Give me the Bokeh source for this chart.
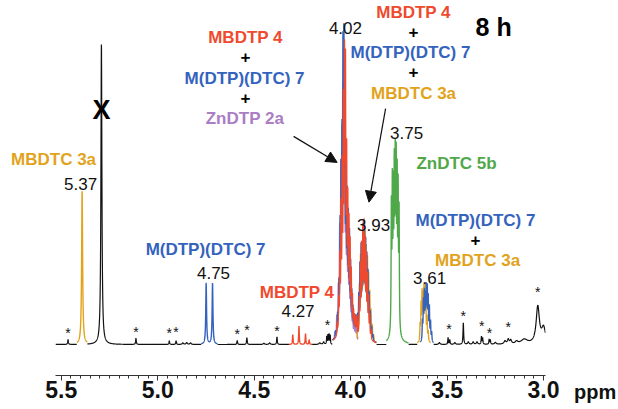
import numpy as np
from bokeh.plotting import figure
from bokeh.models import Arrow, NormalHead, FixedTicker, Range1d, PrintfTickFormatter, ColumnDataSource
from bokeh.embed import file_html
from bokeh.resources import INLINE
from bokeh.core.properties import value

YEL = "#E2A31C"
RED = "#EF4A2E"
BLU = "#3463BE"
PUR = "#AA7DC4"
GRN = "#4FA84A"

# peaks: (ppm, height, half-width)
black_peaks = [
    (5.465, 1.6, 0.002), (5.292, 98.0, 0.003), (5.113, 2.0, 0.002),
    (4.940, 1.2, 0.002), (4.905, 1.2, 0.002), (4.870, 0.5, 0.004),
    (4.850, 0.6, 0.004), (4.830, 0.5, 0.004), (4.588, 1.3, 0.002),
    (4.538, 2.2, 0.002), (4.450, 0.4, 0.004), (4.420, 0.5, 0.004),
    (4.382, 2.5, 0.002), (4.160, 0.5, 0.005), (4.140, 0.8, 0.004),
    (4.124, 2.5, 0.0015), (4.118, 3.0, 0.0015), (4.112, 3.2, 0.0015),
    (4.106, 3.0, 0.0015), (3.540, 0.6, 0.004), (3.495, 2.2, 0.0018),
    (3.486, 1.5, 0.0018), (3.460, 0.6, 0.004), (3.416, 7.0, 0.002),
    (3.390, 0.8, 0.004), (3.365, 0.8, 0.004), (3.345, 0.8, 0.004),
    (3.322, 2.5, 0.0018), (3.316, 2.0, 0.0018), (3.282, 1.6, 0.0018),
    (3.276, 1.4, 0.0018), (3.250, 0.6, 0.005), (3.200, 1.0, 0.006),
    (3.183, 1.5, 0.005), (3.170, 1.2, 0.005), (3.140, 0.8, 0.008),
    (3.100, 1.5, 0.02), (3.030, 12.0, 0.010), (3.000, 5.0, 0.012),
]
yellow_537 = [(5.392, 50.0, 0.003)]
blue_475 = [(4.749, 20.0, 0.0025), (4.716, 20.0, 0.0025)]
red_427 = [(4.300, 3.2, 0.0018), (4.268, 6.0, 0.0018), (4.234, 3.5, 0.0018), (4.215, 1.5, 0.0018)]
purple_402 = [
    (4.082, 2, 0.0016), (4.072, 6, 0.0016), (4.064, 14, 0.0016), (4.057, 30, 0.0016),
    (4.051, 46, 0.0016), (4.046, 52, 0.0016), (4.041, 64, 0.0016), (4.036, 66, 0.0016),
    (4.031, 56, 0.0016), (4.025, 40, 0.0016), (4.019, 32, 0.0016), (4.013, 28, 0.0016),
    (4.007, 24, 0.0016), (4.001, 16, 0.0016), (3.995, 10, 0.0016), (3.989, 7, 0.0016),
    (3.982, 6, 0.0016), (3.975, 6, 0.0016), (3.968, 6, 0.0016), (4.030, 10, 0.02),
]
blue_402 = [
    (4.078, 2, 0.0016), (4.068, 6, 0.0016), (4.061, 14, 0.0016), (4.055, 30, 0.0016),
    (4.050, 44, 0.0016), (4.045, 52, 0.0016), (4.040, 78, 0.0016), (4.035, 80, 0.0016),
    (4.030, 60, 0.0016), (4.024, 44, 0.0016), (4.018, 36, 0.0016), (4.012, 32, 0.0016),
    (4.006, 28, 0.0016), (4.000, 20, 0.0016), (3.994, 12, 0.0016), (3.988, 8, 0.0016),
    (3.982, 6, 0.0016), (3.976, 6, 0.0016), (3.970, 6, 0.0016), (3.964, 6, 0.0016),
    (4.030, 10, 0.02),
]
red_402 = [
    (4.070, 4, 0.0016), (4.062, 10, 0.0016), (4.056, 22, 0.0016), (4.050, 36, 0.0016),
    (4.044, 46, 0.0016), (4.038, 64, 0.0016), (4.032, 76, 0.0016), (4.027, 74, 0.0016),
    (4.021, 48, 0.0016), (4.015, 36, 0.0016), (4.009, 31, 0.0016), (4.003, 26, 0.0016),
    (3.997, 18, 0.0016), (3.991, 11, 0.0016), (3.985, 7, 0.0016), (3.979, 6, 0.0016),
    (3.973, 6, 0.0016), (3.967, 6, 0.0016), (4.028, 10, 0.02),
]
blue_393 = [
    (3.958, 12, 0.0016), (3.952, 21, 0.0016), (3.946, 26, 0.0016), (3.940, 24, 0.0016),
    (3.934, 30, 0.0016), (3.928, 29, 0.0016), (3.922, 26, 0.0016), (3.916, 23, 0.0016),
    (3.910, 19, 0.0016), (3.904, 13, 0.0016), (3.898, 8, 0.0016), (3.891, 4, 0.0016),
    (3.884, 2, 0.0016), (3.930, 5, 0.015),
]
red_393 = [
    (3.955, 11, 0.0016), (3.949, 21, 0.0016), (3.943, 26, 0.0016), (3.937, 30, 0.0016),
    (3.931, 31, 0.0016), (3.925, 26, 0.0016), (3.919, 23, 0.0016), (3.913, 18, 0.0016),
    (3.907, 12, 0.0016), (3.901, 7, 0.0016), (3.894, 3, 0.0016), (3.930, 5, 0.015),
]
yellow_393 = [
    (3.962, 8, 0.0016), (3.955, 16, 0.0016), (3.949, 24, 0.0016), (3.943, 26, 0.0016),
    (3.937, 28, 0.0016), (3.931, 30, 0.0016), (3.925, 28, 0.0016), (3.919, 25, 0.0016),
    (3.913, 23, 0.0016), (3.907, 19, 0.0016), (3.901, 14, 0.0016), (3.895, 9, 0.0016),
    (3.888, 5, 0.0016), (3.881, 2, 0.0016), (3.930, 5, 0.015),
]
green_375 = [
    (3.789, 40, 0.0016), (3.784, 44, 0.0016), (3.779, 40, 0.0016), (3.774, 44, 0.0016),
    (3.769, 46, 0.0016), (3.764, 46, 0.0016), (3.759, 44, 0.0016), (3.754, 42, 0.0016),
    (3.749, 38, 0.0016), (3.769, 10, 0.012),
]
yellow_361 = [
    (3.640, 5, 0.0016), (3.635, 11, 0.0016), (3.630, 14, 0.0016), (3.625, 12, 0.0016),
    (3.620, 14, 0.0016), (3.615, 14, 0.0016), (3.610, 11, 0.0016), (3.604, 7, 0.0016),
    (3.598, 3, 0.0016), (3.618, 3, 0.012),
]
blue_361 = [
    (3.628, 6, 0.0016), (3.623, 12, 0.0016), (3.618, 14, 0.0016), (3.613, 12, 0.0016),
    (3.608, 14, 0.0016), (3.603, 14, 0.0016), (3.598, 12, 0.0016), (3.592, 10, 0.0016),
    (3.586, 6, 0.0016), (3.580, 3, 0.0016), (3.606, 3, 0.012),
]

# coloured segments drawn over the black trace: (colour, high ppm, low ppm, peaks)
segments = [
    (YEL, 5.420, 5.365, yellow_537),
    (BLU, 4.775, 4.690, blue_475),
    (RED, 4.320, 4.200, red_427),
    (PUR, 4.095, 3.962, purple_402),
    (YEL, 3.968, 3.866, yellow_393),
    (BLU, 4.095, 3.866, blue_402 + blue_393),
    (RED, 4.092, 3.868, red_402 + red_393),
    (GRN, 3.815, 3.700, green_375),
    (YEL, 3.655, 3.585, yellow_361),
    (BLU, 3.640, 3.570, blue_361),
]

star_ppm = [5.465, 5.113, 4.940, 4.905, 4.588, 4.538, 4.382, 4.120, 3.490, 3.416, 3.320, 3.280, 3.183, 3.030]
star_y = [3.6, 4.0, 3.6, 4.0, 3.3, 4.9, 4.3, 6.5, 5.2, 9.2, 5.9, 3.9, 5.6, 17.0]

tick_vals = [5.5, 5.0, 4.5, 4.0, 3.5, 3.0]

# text labels: text, ppm, y, colour, size, style
lab_text = ["MBDTC 3a", "5.37", "X",
            "MBDTP 4", "+", "M(DTP)(DTC) 7", "+", "ZnDTP 2a",
            "4.02",
            "MBDTP 4", "+", "M(DTP)(DTC) 7", "+", "MBDTC 3a",
            "3.75", "ZnDTC 5b", "3.93",
            "M(DTP)(DTC) 7", "+", "MBDTC 3a", "3.61", "8 h",
            "M(DTP)(DTC) 7", "4.75", "MBDTP 4", "4.27", "ppm"]
lab_x = [5.540, 5.400, 5.292,
         4.545, 4.545, 4.550, 4.545, 4.548,
         4.027,
         3.674, 3.674, 3.690, 3.674, 3.674,
         3.710, 3.451, 3.881,
         3.353, 3.353, 3.342, 3.591, 3.259,
         4.752, 4.711, 4.278, 4.273, 2.733]
lab_y = [60.5, 52.3, 76.5,
         100.3, 93.8, 86.9, 80.4, 73.9,
         103.3,
         108.6, 102.0, 95.4, 88.9, 82.0,
         69.0, 59.2, 38.9,
         40.5, 34.0, 27.5, 21.6, 103.6,
         31.0, 23.5, 17.0, 11.1, -15.6]
lab_color = [YEL, "#111111", "#000000",
             RED, "#000000", BLU, "#000000", PUR,
             "#111111",
             RED, "#000000", BLU, "#000000", YEL,
             "#111111", GRN, "#111111",
             BLU, "#000000", YEL, "#111111", "#000000",
             BLU, "#111111", RED, "#111111", "#111111"]
lab_size = ["17px", "17px", "27px",
            "17px", "17px", "17px", "17px", "17px",
            "17px",
            "17px", "17px", "17px", "17px", "17px",
            "17px", "17px", "17px",
            "17px", "17px", "17px", "17px", "25px",
            "17px", "17px", "17px", "17px", "20px"]
lab_style = ["bold", "normal", "bold",
             "bold", "bold", "bold", "bold", "bold",
             "normal",
             "bold", "bold", "bold", "bold", "bold",
             "normal", "bold", "normal",
             "bold", "bold", "bold", "normal", "bold",
             "bold", "normal", "bold", "normal", "bold"]

arrows = [
    (4.296, 68.0, 4.070, 59.5),
    (3.819, 77.1, 3.905, 46.5),
]


def lorentz(grid, peaks):
    out = np.zeros_like(grid)
    for c, h, w in peaks:
        out += h * w * w / ((grid - c) ** 2 + w * w)
    return out


grid = np.arange(5.53, 2.99, -0.0004)
base = lorentz(grid, black_peaks)

p = figure(width=618, height=409, output_backend="svg", toolbar_location=None,
           x_range=Range1d(5.53, 2.99), y_range=Range1d(-10.13, 112.4),
           y_axis_location=None, min_border_left=55, min_border_right=73,
           min_border_top=0, min_border_bottom=34)
p.outline_line_color = None
p.xgrid.visible = False
p.ygrid.visible = False
p.background_fill_color = "white"
p.border_fill_color = "white"

black_y = base.copy()
for col, hi, lo, pk in segments:
    black_y[(grid <= hi) & (grid >= lo)] = np.nan
p.line(grid, black_y, line_color="#111111", line_width=1.2)

for col, hi, lo, pk in segments:
    m = (grid <= hi) & (grid >= lo)
    yy = base + lorentz(grid, pk)
    p.line(grid[m], yy[m], line_color=col, line_width=1.4)

src = ColumnDataSource(dict(x=star_ppm, y=star_y, t=["*"] * len(star_ppm)))
p.text(x="x", y="y", text="t", source=src, text_align="center", text_baseline="middle",
       text_font=value("Liberation Sans"), text_font_size="14px", text_color="#111111")

lsrc = ColumnDataSource(dict(x=lab_x, y=lab_y, t=lab_text, c=lab_color, s=lab_size, f=lab_style))
p.text(x="x", y="y", text="t", source=lsrc, text_color="c", text_font_size="s",
       text_font_style="f", text_font=value("Liberation Sans"),
       text_align="center", text_baseline="middle", level="overlay")

for x0, y0, x1, y1 in arrows:
    p.add_layout(Arrow(x_start=x0, y_start=y0, x_end=x1, y_end=y1, line_width=1.2,
                       line_color="#111111",
                       end=NormalHead(size=11, fill_color="#111111", line_color="#111111")))

minor = [round(5.5 - 0.05 * i, 2) for i in range(51)]
ax = p.xaxis[0]
ax.ticker = FixedTicker(ticks=tick_vals, minor_ticks=minor)
ax.formatter = PrintfTickFormatter(format="%.1f")
ax.major_label_text_font = "Liberation Sans"
ax.major_label_text_font_style = "bold"
ax.major_label_text_font_size = "23px"
ax.major_label_text_color = "#111111"
ax.major_label_standoff = 0
ax.major_tick_out = 5
ax.major_tick_in = 0
ax.minor_tick_out = 3
ax.minor_tick_in = 0
ax.axis_line_color = "#333333"
ax.major_tick_line_color = "#333333"
ax.minor_tick_line_color = "#333333"

open("out.html", "w").write(file_html(p, INLINE))
